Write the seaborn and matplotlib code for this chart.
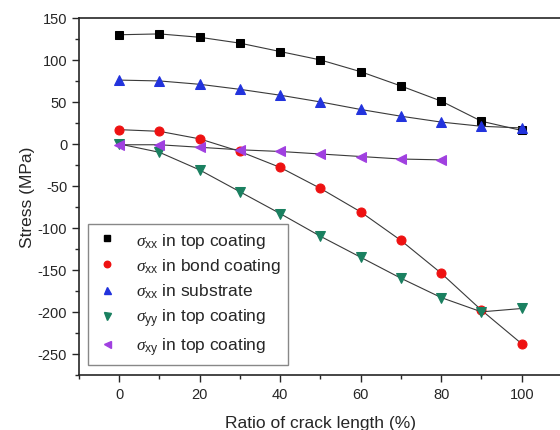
import numpy as np
import pandas as pd
import matplotlib
matplotlib.use("Agg")
import matplotlib.pyplot as plt
from matplotlib.lines import Line2D
import seaborn as sns

# crack length ratio (%)
ratio = [0, 10, 20, 30, 40, 50, 60, 70, 80, 90, 100]
ratio_xy = [0, 10, 20, 30, 40, 50, 60, 70, 80]

sxx_top = [130, 131, 127, 120, 110, 100, 86, 69, 51, 27, 16]
sxx_bond = [17, 15, 6, -9, -28, -53, -81, -115, -154, -198, -238]
sxx_sub = [76, 75, 71, 65, 58, 50, 41, 33, 26, 21, 19]
syy_top = [0, -10, -31, -57, -83, -110, -135, -160, -183, -200, -196]
sxy_top = [-1, -1, -4, -7, -9, -12, -15, -18, -19]

labels = [r"$\sigma_{\mathrm{xx}}$ in top coating",
          r"$\sigma_{\mathrm{xx}}$ in bond coating",
          r"$\sigma_{\mathrm{xx}}$ in substrate",
          r"$\sigma_{\mathrm{yy}}$ in top coating",
          r"$\sigma_{\mathrm{xy}}$ in top coating"]

sns.set_style("ticks")
plt.rcParams["font.family"] = ["Liberation Sans", "DejaVu Sans"]
plt.rcParams["mathtext.fontset"] = "custom"
plt.rcParams["mathtext.it"] = "Liberation Serif:italic"
plt.rcParams["mathtext.rm"] = "Liberation Sans"
plt.rcParams["axes.unicode_minus"] = False

series = [
    (ratio, sxx_top, "s", "#000000", 6),
    (ratio, sxx_bond, "o", "#ee1111", 6.5),
    (ratio, sxx_sub, "^", "#2233dd", 7),
    (ratio, syy_top, "v", "#1a8060", 7),
    (ratio_xy, sxy_top, "<", "#a040e0", 7),
]

fig = plt.figure(figsize=(5.6, 4.31), dpi=100)
ax = fig.add_axes([0.141, 0.128, 0.8625, 0.828])

handles = []
for (x, y, m, c, ms), lab in zip(series, labels):
    df = pd.DataFrame({"x": x, "y": y})
    sns.lineplot(data=df, x="x", y="y", ax=ax, color="#3a3a3a", lw=0.8,
                 marker=m, markersize=ms, markerfacecolor=c,
                 markeredgecolor=c, legend=False)
    handles.append(Line2D([], [], ls="none", marker=m, color=c,
                          markersize=ms * 0.72, label=lab))

ax.set_xlim(-10, 110)
ax.set_ylim(-275, 150)
ax.set_xticks([0, 20, 40, 60, 80, 100])
ax.set_xticks(np.arange(-10, 111, 20), minor=True)
ax.set_yticks(np.arange(-250, 151, 50))
ax.set_yticks(np.arange(-275, 151, 50), minor=True)
ax.tick_params(which="major", length=5, width=1, labelsize=10.5, direction="out")
ax.tick_params(which="minor", length=3, width=1, direction="out")
for s in ax.spines.values():
    s.set_linewidth(1.2)

ax.set_xlabel("Ratio of crack length (%)", fontsize=12.5, labelpad=10)
ax.set_ylabel("Stress (MPa)", fontsize=12.5, labelpad=2)

leg = ax.legend(handles=handles, loc="lower left", bbox_to_anchor=(0.018, 0.028),
                fontsize=12.5, frameon=True, fancybox=False, framealpha=1,
                edgecolor="#888888", handlelength=1.4, handletextpad=1.0,
                labelspacing=0.38, borderpad=0.4, borderaxespad=0)
leg.get_frame().set_linewidth(1.0)

fig.savefig("out.png", dpi=100)
